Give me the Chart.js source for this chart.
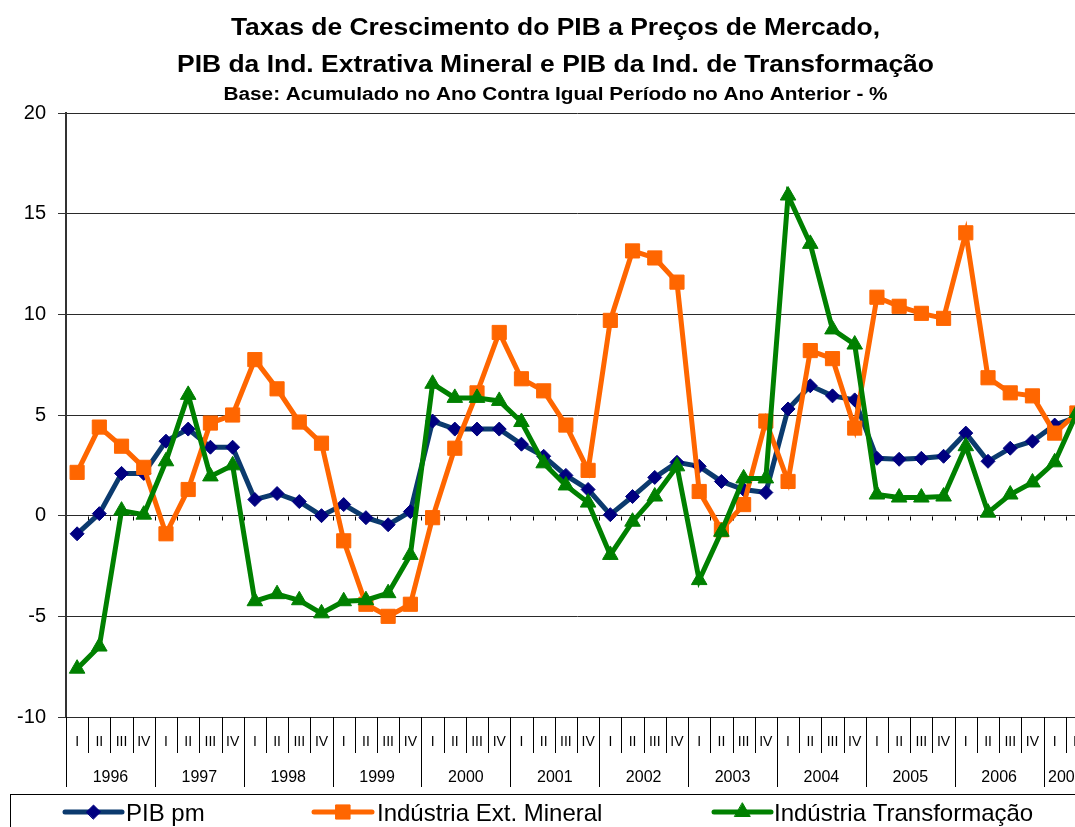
<!DOCTYPE html>
<html>
<head>
<meta charset="utf-8">
<script src="https://cdn.jsdelivr.net/npm/chart.js"></script>
<style>
  html, body { margin: 0; padding: 0; background: #fff; overflow: hidden; }
  #wrap { width: 1111px; height: 827px; }
</style>
</head>
<body>
<div id="wrap"><canvas id="myChart" width="1111" height="827"></canvas></div>
<script>
// Tick labels
const years = ['1996', '1997', '1998', '1999', '2000', '2001', '2002', '2003', '2004', '2005', '2006', '2007'];
const quarterNames = ['I', 'II', 'III', 'IV'];
const quartersShown2007 = 2;

// Series values (% growth)
const pibPm = [
    -0.9, 0.1, 2.1, 2.1, 3.7, 4.3, 3.4, 3.4, 0.8, 1.1, 0.7, 0.0, 0.55, -0.1, -0.45, 0.2,
    4.7, 4.3, 4.3, 4.3, 3.55, 2.95, 2.0, 1.3, 0.05, 0.95, 1.9, 2.65, 2.45, 1.7, 1.3, 1.15,
    5.3, 6.45, 5.95, 5.75, 2.85, 2.8, 2.85, 2.95, 4.1, 2.7, 3.35, 3.7, 4.5, 4.9
];
const extMineral = [
    2.15, 4.4, 3.45, 2.4, -0.9, 1.3, 4.6, 5.0, 7.75, 6.3, 4.65, 3.6, -1.25, -4.4, -5.0, -4.4,
    -0.1, 3.35, 6.1, 9.1, 6.8, 6.2, 4.5, 2.25, 9.7, 13.15, 12.8, 11.6, 1.2, -0.7, 0.55, 4.7,
    1.7, 8.2, 7.8, 4.35, 10.85, 10.4, 10.05, 9.8, 14.05, 6.85, 6.1, 5.95, 4.1, 5.1
];
const transformacao = [
    -7.6, -6.5, 0.25, 0.05, 2.7, 6.0, 1.95, 2.5, -4.25, -3.9, -4.2, -4.85, -4.25, -4.2, -3.85, -1.95,
    6.55, 5.85, 5.85, 5.7, 4.65, 2.6, 1.5, 0.65, -1.95, -0.3, 0.95, 2.45, -3.2, -0.8, 1.85, 1.85,
    15.9, 13.5, 9.25, 8.5, 1.05, 0.9, 0.9, 0.95, 3.45, 0.15, 1.05, 1.65, 2.65, 5.1
];

const labels = years.flatMap(y => y === '2007' ? quarterNames.slice(0, quartersShown2007) : quarterNames);

const titleLines = [
    'Taxas de Crescimento do PIB a Preços de Mercado,',
    'PIB da Ind. Extrativa Mineral e PIB da Ind. de Transformação'
];
const subtitle = 'Base: Acumulado no Ano Contra Igual Período no Ano Anterior - %';

const FONT = '"Liberation Sans", Arial, sans-serif';

// Draw text stretched horizontally (the title is wider than plain Arial)
function stretchedText(ctx, text, cx, baseline, font, sx) {
    ctx.save();
    ctx.font = font;
    ctx.fillStyle = '#000';
    ctx.textAlign = 'center';
    ctx.textBaseline = 'alphabetic';
    ctx.translate(cx, baseline);
    ctx.scale(sx, 1);
    ctx.fillText(text, 0, 0);
    ctx.restore();
}

// Excel style two level category axis, titles and legend
const decor = {
    id: 'decor',
    beforeDatasetsDraw(chart) {
        const { ctx, scales: { x, y } } = chart;
        const step = x.getPixelForValue(1) - x.getPixelForValue(0);
        const y0 = Math.round(y.getPixelForValue(0)) + 0.5;
        ctx.save();
        ctx.strokeStyle = '#000';
        ctx.lineWidth = 1;
        ctx.beginPath();
        for (let i = 1; i <= labels.length; i++) {
            const px = Math.round(x.getPixelForValue(i) - step / 2) + 0.5;
            ctx.moveTo(px, y0);
            ctx.lineTo(px, y0 + 4);
        }
        ctx.stroke();
        ctx.restore();
    },
    afterDraw(chart) {
        const { ctx, chartArea, scales: { x } } = chart;
        const step = x.getPixelForValue(1) - x.getPixelForValue(0);
        const bottom = chartArea.bottom;

        ctx.save();
        // separators under the axis
        ctx.strokeStyle = '#000';
        ctx.lineWidth = 1;
        ctx.beginPath();
        for (let i = 0; i <= labels.length; i++) {
            const px = Math.round(x.getPixelForValue(i) - step / 2) + 0.5;
            const len = i % 4 === 0 ? 70 : 36;
            ctx.moveTo(px, bottom);
            ctx.lineTo(px, bottom + len);
        }
        ctx.stroke();

        // year labels
        ctx.font = '16px ' + FONT;
        ctx.fillStyle = '#000';
        ctx.textAlign = 'center';
        ctx.textBaseline = 'alphabetic';
        years.forEach((yr, k) => {
            const first = k * 4;
            const count = Math.min(4, labels.length - first);
            const cx = (x.getPixelForValue(first) + x.getPixelForValue(first + count - 1)) / 2;
            ctx.fillText(yr, cx, bottom + 65);
        });
        ctx.restore();

        // titles
        stretchedText(ctx, titleLines[0], chart.width / 2, 35, 'bold 23px ' + FONT, 1.15);
        stretchedText(ctx, titleLines[1], chart.width / 2, 72, 'bold 23px ' + FONT, 1.15);
        stretchedText(ctx, subtitle, chart.width / 2, 100, 'bold 18px ' + FONT, 1.155);

        // legend
        ctx.save();
        ctx.strokeStyle = '#000';
        ctx.lineWidth = 1;
        ctx.strokeRect(10.5, 794.5, 1200, 100);
        const legendPos = [
            { x0: 65, x1: 122, tx: 126 },
            { x0: 314, x1: 372, tx: 377 },
            { x0: 714, x1: 771, tx: 774 }
        ];
        const ly = 812;
        chart.data.datasets.forEach((ds, i) => {
            const p = legendPos[i];
            ctx.strokeStyle = ds.borderColor;
            ctx.lineWidth = ds.borderWidth;
            ctx.lineCap = 'round';
            ctx.beginPath();
            ctx.moveTo(p.x0, ly);
            ctx.lineTo(p.x1, ly);
            ctx.stroke();
            ctx.fillStyle = ds.pointBackgroundColor;
            ctx.strokeStyle = ds.pointBorderColor;
            ctx.lineWidth = 1;
            Chart.helpers.drawPoint(ctx, {
                pointStyle: ds.pointStyle,
                radius: ds.pointRadius,
                rotation: 0,
                borderWidth: 1
            }, (p.x0 + p.x1) / 2, ly);
            ctx.fillStyle = '#000';
            ctx.font = '24px ' + FONT;
            ctx.textAlign = 'left';
            ctx.textBaseline = 'alphabetic';
            ctx.fillText(ds.label, p.tx, ly + 8.5);
        });
        ctx.restore();
    }
};

const ctx = document.getElementById('myChart').getContext('2d');

new Chart(ctx, {
    type: 'line',
    data: {
        labels: labels,
        datasets: [
            {
                label: 'PIB pm',
                data: pibPm,
                borderColor: '#0B3A6E',
                borderWidth: 5,
                pointStyle: 'rectRot',
                pointRadius: 7,
                pointBackgroundColor: '#000080',
                pointBorderColor: '#000080',
                pointBorderWidth: 1,
                tension: 0,
                order: 3
            },
            {
                label: 'Indústria Ext. Mineral',
                data: extMineral,
                borderColor: '#FF6600',
                borderWidth: 5,
                pointStyle: 'rect',
                pointRadius: 10,
                pointBackgroundColor: '#FF6600',
                pointBorderColor: '#FF6600',
                pointBorderWidth: 1,
                tension: 0,
                order: 2
            },
            {
                label: 'Indústria Transformação',
                data: transformacao,
                borderColor: '#008000',
                borderWidth: 5,
                pointStyle: 'triangle',
                pointRadius: 9,
                pointBackgroundColor: '#008000',
                pointBorderColor: '#008000',
                pointBorderWidth: 1,
                tension: 0,
                order: 1
            }
        ]
    },
    options: {
        responsive: false,
        animation: false,
        layout: { padding: { top: 113, right: 23, left: 0, bottom: 0 } },
        scales: {
            x: {
                offset: true,
                grid: { display: false, drawTicks: false },
                border: { display: false },
                ticks: {
                    autoSkip: false,
                    maxRotation: 0,
                    padding: 17,
                    color: '#000',
                    font: { family: FONT, size: 14 }
                },
                afterFit(scale) { scale.height = 110; }
            },
            y: {
                min: -10,
                max: 20,
                ticks: {
                    stepSize: 5,
                    padding: 12,
                    color: '#000',
                    font: { family: FONT, size: 20 }
                },
                grid: {
                    color: '#2a2a2a',
                    lineWidth: 1,
                    tickLength: 8,
                    tickColor: '#333'
                },
                border: { color: '#333', width: 2 },
                afterFit(scale) { scale.width = 66; }
            }
        },
        plugins: {
            legend: { display: false },
            tooltip: { enabled: false }
        }
    },
    plugins: [decor]
});
</script>
</body>
</html>
